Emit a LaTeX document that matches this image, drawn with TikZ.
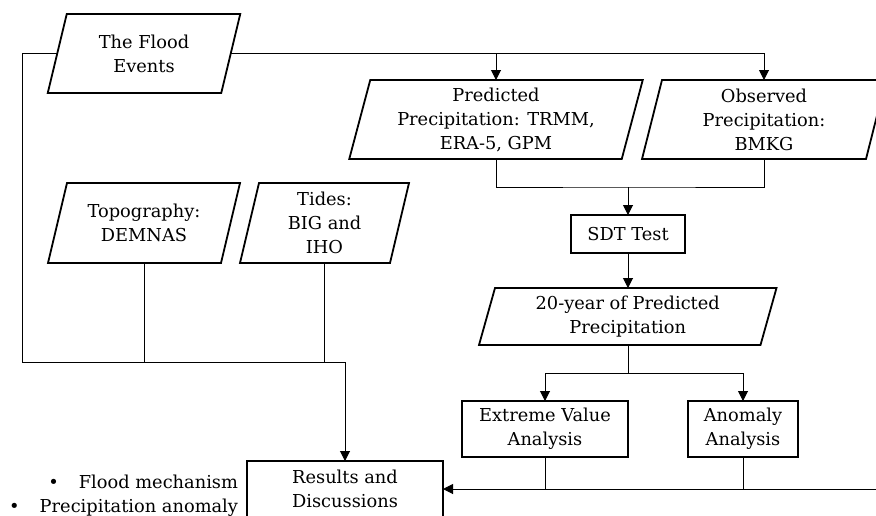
\documentclass[tikz,border=0pt]{standalone}
\usepackage{fontspec}
\setmainfont{DejaVu Serif}
\usetikzlibrary{arrows.meta}
\tikzset{
  boxtext/.style={align=center, inner sep=0pt, outer sep=0pt, font=\fontsize{17.8}{24}\selectfont},
  rectbox/.style={boxtext, draw, line width=1.8pt},
  parashape/.style={line width=1.8pt, line join=miter},
  conn/.style={line width=1pt},
  arr/.style={conn, -{Triangle[width=10pt,length=10pt]}},
}
\newcommand\paranode[7]{%
  \node[boxtext, minimum width=#4pt, minimum height=#5pt] (#1) at (#2,#3) {#7};
  \draw[parashape] ([xshift=#6pt]#1.north west) -- ([xshift=#6pt]#1.north east)
     -- ([xshift=-#6pt]#1.south east) -- ([xshift=-#6pt]#1.south west) -- cycle;
}
\begin{document}
\begin{tikzpicture}[x=1pt,y=-1pt]
\useasboundingbox (0,0) rectangle (876,515);
\clip (0,0) rectangle (876,515);
\paranode{flood}{144}{53.5}{173.5}{79}{9.5}{The Flood\\Events}
\paranode{pred}{496}{119.5}{272.5}{79}{10.5}{Predicted\\Precipitation: TRMM,\\ERA-5, GPM}
\paranode{obs}{764}{119.5}{224}{79}{10}{Observed\\Precipitation:\\BMKG}
\paranode{topo}{144}{223}{173}{80}{9.5}{Topography:\\DEMNAS}
\paranode{tides}{324.5}{223}{150}{80}{9.5}{Tides:\\BIG and\\IHO}
\node[rectbox, minimum width=114pt, minimum height=38pt] (sdt) at (628,234) {SDT Test};
\paranode{yr}{627.75}{316.5}{281.5}{57}{8}{20-year of Predicted\\Precipitation}
\node[rectbox, minimum width=166pt, minimum height=56pt] (ev) at (545,429) {Extreme Value\\Analysis};
\node[rectbox, minimum width=110pt, minimum height=56pt] (an) at (743,429) {Anomaly\\Analysis};
\node[rectbox, minimum width=196pt, minimum height=56pt] (res) at (345,489) {Results and\\Discussions};
\node[boxtext, anchor=base east] (b1) at (238,488) {•\hspace{20pt}Flood mechanism};
\node[boxtext, anchor=base east] (b2) at (238,512) {•\hspace{20pt}Precipitation anomaly};
% connectors
\coordinate (lt) at (22,362);
\draw[arr] (flood.west) -| (lt) -| (res.north);
\draw[conn] (topo.south) -- (topo.south |- lt);
\draw[conn] (tides.south) -- (tides.south |- lt);
\draw[arr] (flood.east) -| (obs.north);
\draw[arr] (flood.east -| pred.north) -- (pred.north);
\coordinate (j1) at (628,187);
\draw[conn] (pred.south) |- (j1) -| (obs.south);
\draw[arr] (j1) -- (sdt.north);
\draw[arr] (sdt.south) -- (sdt.south |- yr.north);
\coordinate (j2) at (628,373);
\draw[conn] (yr.south -| j2) -- (j2);
\draw[arr] (j2) -| (ev.north);
\draw[arr] (j2) -| (an.north);
\coordinate (rr) at (880,489);
\draw[conn] (ev.south) -- (ev.south |- rr);
\draw[conn] (an.south) -- (an.south |- rr);
\draw[arr] (rr) -- (res.east);
\end{tikzpicture}
\end{document}
